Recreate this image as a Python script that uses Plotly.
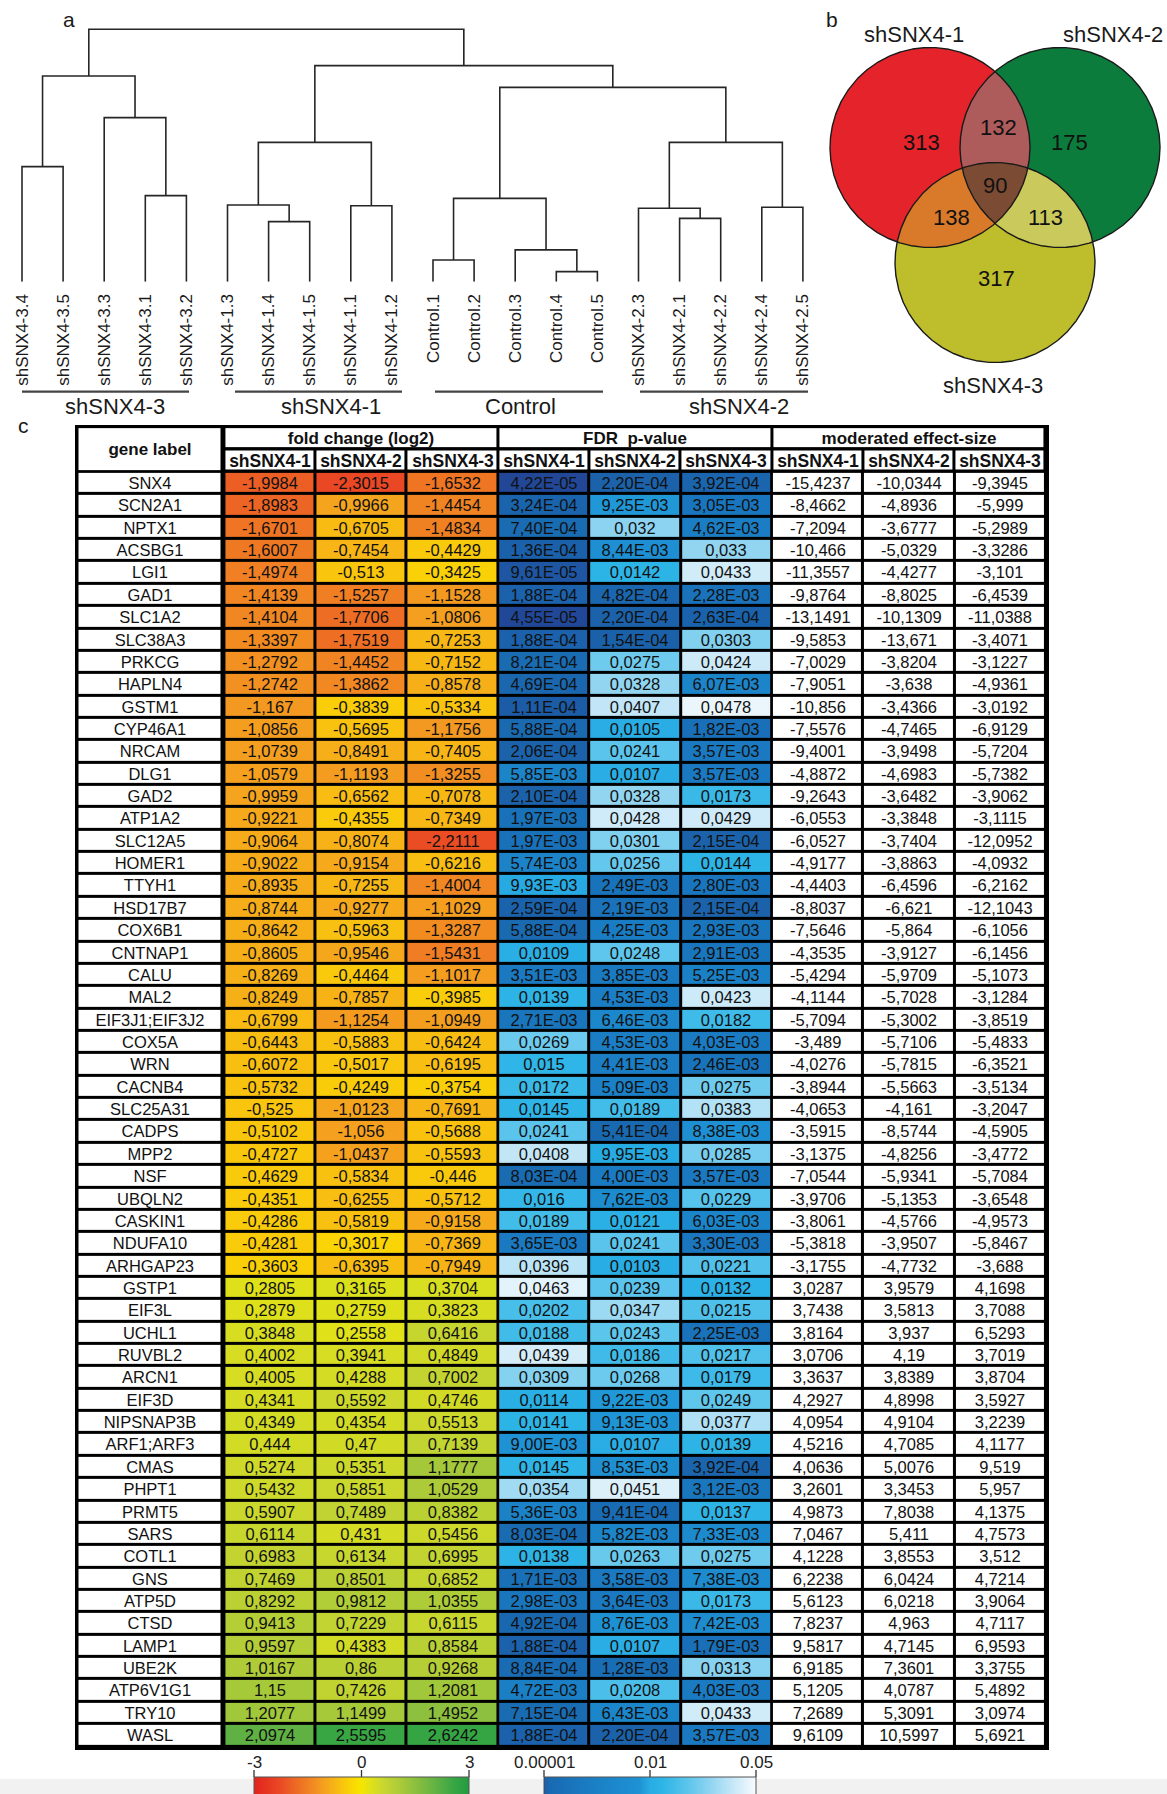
import numpy as np
import plotly.graph_objects as go

W, H = 1167, 1794
FONT = "Liberation Sans, Arial, Helvetica, sans-serif"

# ---------------- panel a: sample clustering ----------------
leaf_labels = [
    "shSNX4-3.4", "shSNX4-3.5", "shSNX4-3.3", "shSNX4-3.1", "shSNX4-3.2",
    "shSNX4-1.3", "shSNX4-1.4", "shSNX4-1.5", "shSNX4-1.1", "shSNX4-1.2",
    "Control.1", "Control.2", "Control.3", "Control.4", "Control.5",
    "shSNX4-2.3", "shSNX4-2.1", "shSNX4-2.2", "shSNX4-2.4", "shSNX4-2.5",
]
# linkage rows (child a, child b, distance); new node ids continue after the leaves
merge_a = [13, 10, 12, 6, 16, 15, 18, 8, 5, 21, 3, 0, 28, 25, 2, 29, 31, 32, 36]
merge_b = [14, 11, 20, 7, 17, 24, 19, 9, 23, 22, 4, 1, 27, 26, 30, 33, 34, 35, 37]
merge_height = [0.040, 0.086, 0.126, 0.238, 0.251, 0.291, 0.295, 0.301, 0.304, 0.330,
                0.341, 0.456, 0.552, 0.552, 0.650, 0.770, 0.815, 0.856, 1.000]
group_names = ["shSNX4-3", "shSNX4-1", "Control", "shSNX4-2"]

# ---------------- panel b: overlap of regulated genes ----------------
venn_sets = ["shSNX4-1", "shSNX4-2", "shSNX4-3"]
venn_members = [(0,), (1,), (2,), (0, 1), (0, 2), (1, 2), (0, 1, 2)]
venn_counts = [313, 175, 317, 132, 138, 113, 90]

# ---------------- panel c: gene table ----------------
conditions = ["shSNX4-1", "shSNX4-2", "shSNX4-3"]
table_groups = ["fold change (log2)", "FDR\u00a0 p-value", "moderated effect-size"]
genes = [
    "SNX4", "SCN2A1", "NPTX1", "ACSBG1", "LGI1", "GAD1", "SLC1A2", "SLC38A3", "PRKCG", "HAPLN4",
    "GSTM1", "CYP46A1", "NRCAM", "DLG1", "GAD2", "ATP1A2", "SLC12A5", "HOMER1", "TTYH1", "HSD17B7",
    "COX6B1", "CNTNAP1", "CALU", "MAL2", "EIF3J1;EIF3J2", "COX5A", "WRN", "CACNB4", "SLC25A31", "CADPS",
    "MPP2", "NSF", "UBQLN2", "CASKIN1", "NDUFA10", "ARHGAP23", "GSTP1", "EIF3L", "UCHL1", "RUVBL2",
    "ARCN1", "EIF3D", "NIPSNAP3B", "ARF1;ARF3", "CMAS", "PHPT1", "PRMT5", "SARS", "COTL1", "GNS",
    "ATP5D", "CTSD", "LAMP1", "UBE2K", "ATP6V1G1", "TRY10", "WASL",
]
fc_sh1 = [-1.9984, -1.8983, -1.6701, -1.6007, -1.4974, -1.4139, -1.4104, -1.3397, -1.2792, -1.2742,
          -1.167, -1.0856, -1.0739, -1.0579, -0.9959, -0.9221, -0.9064, -0.9022, -0.8935, -0.8744,
          -0.8642, -0.8605, -0.8269, -0.8249, -0.6799, -0.6443, -0.6072, -0.5732, -0.525, -0.5102,
          -0.4727, -0.4629, -0.4351, -0.4286, -0.4281, -0.3603, 0.2805, 0.2879, 0.3848, 0.4002,
          0.4005, 0.4341, 0.4349, 0.444, 0.5274, 0.5432, 0.5907, 0.6114, 0.6983, 0.7469,
          0.8292, 0.9413, 0.9597, 1.0167, 1.15, 1.2077, 2.0974]
fc_sh2 = [-2.3015, -0.9966, -0.6705, -0.7454, -0.513, -1.5257, -1.7706, -1.7519, -1.4452, -1.3862,
          -0.3839, -0.5695, -0.8491, -1.1193, -0.6562, -0.4355, -0.8074, -0.9154, -0.7255, -0.9277,
          -0.5963, -0.9546, -0.4464, -0.7857, -1.1254, -0.5883, -0.5017, -0.4249, -1.0123, -1.056,
          -1.0437, -0.5834, -0.6255, -0.5819, -0.3017, -0.6395, 0.3165, 0.2759, 0.2558, 0.3941,
          0.4288, 0.5592, 0.4354, 0.47, 0.5351, 0.5851, 0.7489, 0.431, 0.6134, 0.8501,
          0.9812, 0.7229, 0.4383, 0.86, 0.7426, 1.1499, 2.5595]
fc_sh3 = [-1.6532, -1.4454, -1.4834, -0.4429, -0.3425, -1.1528, -1.0806, -0.7253, -0.7152, -0.8578,
          -0.5334, -1.1756, -0.7405, -1.3255, -0.7078, -0.7349, -2.2111, -0.6216, -1.4004, -1.1029,
          -1.3287, -1.5431, -1.1017, -0.3985, -1.0949, -0.6424, -0.6195, -0.3754, -0.7691, -0.5688,
          -0.5593, -0.446, -0.5712, -0.9158, -0.7369, -0.7949, 0.3704, 0.3823, 0.6416, 0.4849,
          0.7002, 0.4746, 0.5513, 0.7139, 1.1777, 1.0529, 0.8382, 0.5456, 0.6995, 0.6852,
          1.0355, 0.6115, 0.8584, 0.9268, 1.2081, 1.4952, 2.6242]
fdr_sh1 = [4.22e-05, 3.24e-04, 7.40e-04, 1.36e-04, 9.61e-05, 1.88e-04, 4.55e-05, 1.88e-04, 8.21e-04, 4.69e-04,
           1.11e-04, 5.88e-04, 2.06e-04, 5.85e-03, 2.10e-04, 1.97e-03, 1.97e-03, 5.74e-03, 9.93e-03, 2.59e-04,
           5.88e-04, 0.0109, 3.51e-03, 0.0139, 2.71e-03, 0.0269, 0.015, 0.0172, 0.0145, 0.0241,
           0.0408, 8.03e-04, 0.016, 0.0189, 3.65e-03, 0.0396, 0.0463, 0.0202, 0.0188, 0.0439,
           0.0309, 0.0114, 0.0141, 9.00e-03, 0.0145, 0.0354, 5.36e-03, 8.03e-04, 0.0138, 1.71e-03,
           2.98e-03, 4.92e-04, 1.88e-04, 8.84e-04, 4.72e-03, 7.15e-04, 1.88e-04]
fdr_sh2 = [2.20e-04, 9.25e-03, 0.032, 8.44e-03, 0.0142, 4.82e-04, 2.20e-04, 1.54e-04, 0.0275, 0.0328,
           0.0407, 0.0105, 0.0241, 0.0107, 0.0328, 0.0428, 0.0301, 0.0256, 2.49e-03, 2.19e-03,
           4.25e-03, 0.0248, 3.85e-03, 4.53e-03, 6.46e-03, 4.53e-03, 4.41e-03, 5.09e-03, 0.0189, 5.41e-04,
           9.95e-03, 4.00e-03, 7.62e-03, 0.0121, 0.0241, 0.0103, 0.0239, 0.0347, 0.0243, 0.0186,
           0.0268, 9.22e-03, 9.13e-03, 0.0107, 8.53e-03, 0.0451, 9.41e-04, 5.82e-03, 0.0263, 3.58e-03,
           3.64e-03, 8.76e-03, 0.0107, 1.28e-03, 0.0208, 6.43e-03, 2.20e-04]
fdr_sh3 = [3.92e-04, 3.05e-03, 4.62e-03, 0.033, 0.0433, 2.28e-03, 2.63e-04, 0.0303, 0.0424, 6.07e-03,
           0.0478, 1.82e-03, 3.57e-03, 3.57e-03, 0.0173, 0.0429, 2.15e-04, 0.0144, 2.80e-03, 2.15e-04,
           2.93e-03, 2.91e-03, 5.25e-03, 0.0423, 0.0182, 4.03e-03, 2.46e-03, 0.0275, 0.0383, 8.38e-03,
           0.0285, 3.57e-03, 0.0229, 6.03e-03, 3.30e-03, 0.0221, 0.0132, 0.0215, 2.25e-03, 0.0217,
           0.0179, 0.0249, 0.0377, 0.0139, 3.92e-04, 3.12e-03, 0.0137, 7.33e-03, 0.0275, 7.38e-03,
           0.0173, 7.42e-03, 1.79e-03, 0.0313, 4.03e-03, 0.0433, 3.57e-03]
eff_sh1 = [-15.4237, -8.4662, -7.2094, -10.466, -11.3557, -9.8764, -13.1491, -9.5853, -7.0029, -7.9051,
           -10.856, -7.5576, -9.4001, -4.8872, -9.2643, -6.0553, -6.0527, -4.9177, -4.4403, -8.8037,
           -7.5646, -4.3535, -5.4294, -4.1144, -5.7094, -3.489, -4.0276, -3.8944, -4.0653, -3.5915,
           -3.1375, -7.0544, -3.9706, -3.8061, -5.3818, -3.1755, 3.0287, 3.7438, 3.8164, 3.0706,
           3.3637, 4.2927, 4.0954, 4.5216, 4.0636, 3.2601, 4.9873, 7.0467, 4.1228, 6.2238,
           5.6123, 7.8237, 9.5817, 6.9185, 5.1205, 7.2689, 9.6109]
eff_sh2 = [-10.0344, -4.8936, -3.6777, -5.0329, -4.4277, -8.8025, -10.1309, -13.671, -3.8204, -3.638,
           -3.4366, -4.7465, -3.9498, -4.6983, -3.6482, -3.3848, -3.7404, -3.8863, -6.4596, -6.621,
           -5.864, -3.9127, -5.9709, -5.7028, -5.3002, -5.7106, -5.7815, -5.5663, -4.161, -8.5744,
           -4.8256, -5.9341, -5.1353, -4.5766, -3.9507, -4.7732, 3.9579, 3.5813, 3.937, 4.19,
           3.8389, 4.8998, 4.9104, 4.7085, 5.0076, 3.3453, 7.8038, 5.411, 3.8553, 6.0424,
           6.0218, 4.963, 4.7145, 7.3601, 4.0787, 5.3091, 10.5997]
eff_sh3 = [-9.3945, -5.999, -5.2989, -3.3286, -3.101, -6.4539, -11.0388, -3.4071, -3.1227, -4.9361,
           -3.0192, -6.9129, -5.7204, -5.7382, -3.9062, -3.1115, -12.0952, -4.0932, -6.2162, -12.1043,
           -6.1056, -6.1456, -5.1073, -3.1284, -3.8519, -5.4833, -6.3521, -3.5134, -3.2047, -4.5905,
           -3.4772, -5.7084, -3.6548, -4.9573, -5.8467, -3.688, 4.1698, 3.7088, 6.5293, 3.7019,
           3.8704, 3.5927, 3.2239, 4.1177, 9.519, 5.957, 4.1375, 4.7573, 3.512, 4.7214,
           3.9064, 4.7117, 6.9593, 3.3755, 5.4892, 3.0974, 5.6921]

fc_ticks = [-3, 0, 3]
fdr_ticks = [0.00001, 0.01, 0.05]
fdr_tick_text = ["0.00001", "0.01", "0.05"]


# ---------------- helpers ----------------
def dec(v):
    return repr(v).replace(".", ",")


def fmt_p(p):
    s = f"{p:.2E}" if p < 0.01 else repr(p)
    return s.replace(".", ",")


def fdr_scale(p):
    # piecewise-linear scale: 1e-5..0.01 -> 0..0.5, 0.01..0.05 -> 0.5..1
    lo, mid, hi = fdr_ticks
    if p <= mid:
        return 0.5 * (p - lo) / (mid - lo)
    return 0.5 + 0.5 * (p - mid) / (hi - mid)


fig = go.Figure()

# ---------------- dendrogram ----------------
node_x = list(range(len(leaf_labels)))
node_h = [0.0] * len(leaf_labels)
dx, dy = [], []
for a, b, h in zip(merge_a, merge_b, merge_height):
    xa, xb = node_x[a], node_x[b]
    dx += [xa, xa, xb, xb, None]
    dy += [node_h[a], h, h, node_h[b], None]
    node_x.append((xa + xb) / 2)
    node_h.append(h)
fig.add_trace(go.Scatter(x=dx, y=dy, mode="lines", line=dict(color="#262626", width=1.6),
                         xaxis="x2", yaxis="y2", hoverinfo="skip", showlegend=False,
                         cliponaxis=False))

# ---------------- venn diagram ----------------
venn_centers = [(930.0, 147.5), (1060.0, 147.5), (995.0, 262.5)]
venn_r = 100.0
venn_colors = ["#e4242a", "#0b7c3c", "#bebd2c", "#ae5b5c", "#d9792a", "#c9c95c", "#7b4b33"]
theta = np.linspace(0, 2 * np.pi, 1441)


def ring(k):
    cx, cy = venn_centers[k]
    return cx + venn_r * np.cos(theta), cy + venn_r * np.sin(theta)


def lens(members):
    xs, ys = [], []
    for k in members:
        px, py = ring(k)
        keep = np.ones_like(px, dtype=bool)
        for j in members:
            if j != k:
                cx, cy = venn_centers[j]
                keep &= (px - cx) ** 2 + (py - cy) ** 2 <= venn_r ** 2 + 1e-6
        xs.append(px[keep])
        ys.append(py[keep])
    xs, ys = np.concatenate(xs), np.concatenate(ys)
    order = np.argsort(np.arctan2(ys - ys.mean(), xs - xs.mean()))
    xs, ys = xs[order], ys[order]
    return np.append(xs, xs[0]), np.append(ys, ys[0])


for members, col in zip(venn_members, venn_colors):
    px, py = ring(members[0]) if len(members) == 1 else lens(members)
    fig.add_trace(go.Scatter(x=px, y=py, mode="lines", fill="toself", fillcolor=col,
                             line=dict(width=0, color=col), hoverinfo="skip", showlegend=False))
for k in range(3):
    px, py = ring(k)
    fig.add_trace(go.Scatter(x=px, y=py, mode="lines", line=dict(color="#1a1a1a", width=1.4),
                             hoverinfo="skip", showlegend=False))

count_pos = [(921.5, 142), (1069.5, 142), (996.5, 278.5), (998.5, 127), (951, 217), (1045.5, 217), (995, 185.5)]
set_label_pos = [(914, 34), (1113, 34), (992.5, 385)]

# ---------------- table ----------------
row_pitch = 22.36
head_top = 427.1
data_top = head_top + 2 * row_pitch
row_edges = [data_top + row_pitch * k for k in range(len(genes) + 1)]
label_edges = [77.5, 222.9]
col_pitch = 91.25
col_edges = [224.4 + col_pitch * k for k in range(10)]
cell_font = dict(family=FONT, size=16.5, color="#111111")
head_font = dict(family=FONT, size=17, color="#111111", weight="bold")
white = [[0, "#ffffff"], [1, "#ffffff"]]
gap = 3

n = len(genes)
fc_z = [[fc_sh1[i], fc_sh2[i], fc_sh3[i]] for i in range(n)]
fc_txt = [[dec(v) for v in row] for row in fc_z]
fdr_raw = [[fdr_sh1[i], fdr_sh2[i], fdr_sh3[i]] for i in range(n)]
fdr_z = [[fdr_scale(p) for p in row] for row in fdr_raw]
fdr_txt = [[fmt_p(p) for p in row] for row in fdr_raw]
eff_z = [[eff_sh1[i], eff_sh2[i], eff_sh3[i]] for i in range(n)]
eff_txt = [[dec(v) for v in row] for row in eff_z]

fc_colors = [
    [0.00, "rgb(226,35,30)"], [0.12, "rgb(234,72,36)"], [0.17, "rgb(236,95,36)"],
    [0.25, "rgb(240,128,35)"], [0.33, "rgb(245,163,30)"], [0.42, "rgb(249,200,12)"],
    [0.47, "rgb(250,220,0)"], [0.50, "rgb(245,230,0)"], [0.55, "rgb(220,224,28)"],
    [0.60, "rgb(201,215,46)"], [0.67, "rgb(175,204,56)"], [0.75, "rgb(140,192,62)"],
    [0.85, "rgb(95,177,67)"], [0.93, "rgb(55,166,68)"], [1.00, "rgb(35,155,65)"],
]
fdr_colors = [
    [0.0, "rgb(36,62,144)"], [0.006, "rgb(27,96,170)"], [0.03, "rgb(25,106,177)"],
    [0.12, "rgb(25,115,187)"], [0.25, "rgb(27,128,198)"], [0.45, "rgb(30,146,212)"],
    [0.50, "rgb(40,172,228)"], [0.56, "rgb(46,181,231)"], [0.68, "rgb(92,197,236)"],
    [0.78, "rgb(142,212,241)"], [0.90, "rgb(202,233,248)"], [1.0, "rgb(248,251,254)"],
]

# colour bars under the table (labels and ticks drawn above the bar)
bar_top = 1777
fc_bar_cx, fc_bar_len = 361.5, 215
fdr_bar_cx, fdr_bar_len = 650, 212
cbar_common = dict(orientation="h", lenmode="pixels", thicknessmode="pixels", thickness=22,
                   yanchor="top", y=1 - bar_top / H, xanchor="center", xpad=0, ypad=0,
                   ticks="", showticklabels=False, outlinewidth=1, outlinecolor="#555555")

fig.add_trace(go.Heatmap(x=label_edges, y=row_edges, z=[[0] for _ in genes],
                         text=[[g] for g in genes], texttemplate="%{text}", textfont=cell_font,
                         colorscale=white, zmin=0, zmax=1, showscale=False, xgap=gap, ygap=gap,
                         hoverinfo="skip"))
fig.add_trace(go.Heatmap(x=col_edges[0:4], y=row_edges, z=fc_z, text=fc_txt,
                         texttemplate="%{text}", textfont=cell_font, colorscale=fc_colors,
                         zmin=fc_ticks[0], zmax=fc_ticks[-1], xgap=gap, ygap=gap, hoverinfo="skip",
                         colorbar=dict(cbar_common, x=fc_bar_cx / W, len=fc_bar_len)))
fig.add_trace(go.Heatmap(x=col_edges[3:7], y=row_edges, z=fdr_z, text=fdr_txt,
                         texttemplate="%{text}", textfont=cell_font, colorscale=fdr_colors,
                         zmin=0, zmax=1, xgap=gap, ygap=gap, hoverinfo="skip",
                         colorbar=dict(cbar_common, x=fdr_bar_cx / W, len=fdr_bar_len)))
fig.add_trace(go.Heatmap(x=col_edges[6:10], y=row_edges, z=eff_z, text=eff_txt,
                         texttemplate="%{text}", textfont=cell_font, colorscale=white,
                         showscale=False, xgap=gap, ygap=gap, hoverinfo="skip"))

# header cells
fig.add_trace(go.Heatmap(x=label_edges, y=[head_top, data_top], z=[[0]], text=[["gene label"]],
                         texttemplate="%{text}", textfont=head_font, colorscale=white, zmin=0, zmax=1,
                         showscale=False, xgap=gap, ygap=gap, hoverinfo="skip"))
fig.add_trace(go.Heatmap(x=col_edges[0:10:3], y=[head_top, head_top + row_pitch], z=[[0, 0, 0]],
                         text=[table_groups], texttemplate="%{text}", textfont=head_font,
                         colorscale=white, zmin=0, zmax=1, showscale=False, xgap=gap, ygap=gap,
                         hoverinfo="skip"))
fig.add_trace(go.Heatmap(x=col_edges, y=[head_top + row_pitch, data_top], z=[[0] * 9],
                         text=[conditions * 3], texttemplate="%{text}",
                         textfont=dict(head_font, size=17.5), colorscale=white, zmin=0, zmax=1,
                         showscale=False, xgap=gap, ygap=gap, hoverinfo="skip"))

# ---------------- annotations & decorations ----------------
ann = []
for (px, py), name in zip(set_label_pos, venn_sets):
    ann.append(dict(x=px, y=py, text=name, font=dict(family=FONT, size=22, color="#1a1a1a")))
for (px, py), val in zip(count_pos, venn_counts):
    ann.append(dict(x=px, y=py, text=str(val), font=dict(family=FONT, size=22, color="#111111")))

group_label_x = [115, 331, 520, 739]
group_line = [(22, 189), (235, 402), (435, 603), (640, 808)]
shapes = [
    dict(type="rect", x0=0, x1=W, y0=1779, y1=H, fillcolor="#f1f1f1", line=dict(width=0), layer="below"),
    dict(type="rect", x0=75, x1=1049, y0=425, y1=1750, fillcolor="#000000", line=dict(width=0), layer="below"),
]
for gx, (x0, x1), name in zip(group_label_x, group_line, group_names):
    ann.append(dict(x=gx, y=406, text=name, font=dict(family=FONT, size=22, color="#1a1a1a")))
    shapes.append(dict(type="line", x0=x0, x1=x1, y0=391.7, y1=391.7,
                       line=dict(color="#444444", width=2.2)))


def bar_ticks(cx, length, positions, labels):
    # tick marks and labels sitting on top of a horizontal colour bar
    for t, lab in zip(positions, labels):
        px = cx - length / 2 + length * t
        shapes.append(dict(type="line", x0=px, x1=px, y0=bar_top - 7, y1=bar_top,
                           line=dict(color="#333333", width=1.3)))
        ann.append(dict(x=px, y=bar_top - 15, text=lab,
                        font=dict(family=FONT, size=17, color="#222222")))


bar_ticks(fc_bar_cx, fc_bar_len, [(v - fc_ticks[0]) / (fc_ticks[-1] - fc_ticks[0]) for v in fc_ticks],
          [str(v) for v in fc_ticks])
bar_ticks(fdr_bar_cx, fdr_bar_len, [fdr_scale(p) for p in fdr_ticks], fdr_tick_text)

for letter, (px, py) in zip(["a", "b", "c"], [(68.5, 19), (832, 19), (23, 425)]):
    ann.append(dict(x=px, y=py, text=letter, font=dict(family=FONT, size=21, color="#1a1a1a")))

for a in ann:
    a.update(xref="x", yref="y", showarrow=False, xanchor="center", yanchor="middle")

y2_bottom, y2_top = 281.7, 281.7 - 1.1 * 252.4
fig.update_layout(
    width=W, height=H, margin=dict(l=0, r=0, t=0, b=0, autoexpand=False),
    paper_bgcolor="#ffffff", plot_bgcolor="rgba(0,0,0,0)", showlegend=False,
    xaxis=dict(domain=[0, 1], range=[0, W], visible=False, fixedrange=True),
    yaxis=dict(domain=[0, 1], range=[H, 0], visible=False, fixedrange=True, anchor="x"),
    xaxis2=dict(domain=[(22 - 0.5 * 41.1) / W, (22 + 19.5 * 41.1) / W], range=[-0.5, 19.5],
                anchor="y2", tickmode="array", tickvals=list(range(len(leaf_labels))),
                ticktext=leaf_labels, tickangle=-90, ticks="", showline=False, showgrid=False,
                zeroline=False, ticklabelstandoff=8, automargin=False,
                tickfont=dict(family=FONT, size=17, color="#1a1a1a"), fixedrange=True),
    yaxis2=dict(domain=[1 - y2_bottom / H, 1 - y2_top / H], range=[0, 1.1], anchor="x2",
                visible=False, fixedrange=True),
    annotations=ann, shapes=shapes,
)

fig.write_html("out.html")
